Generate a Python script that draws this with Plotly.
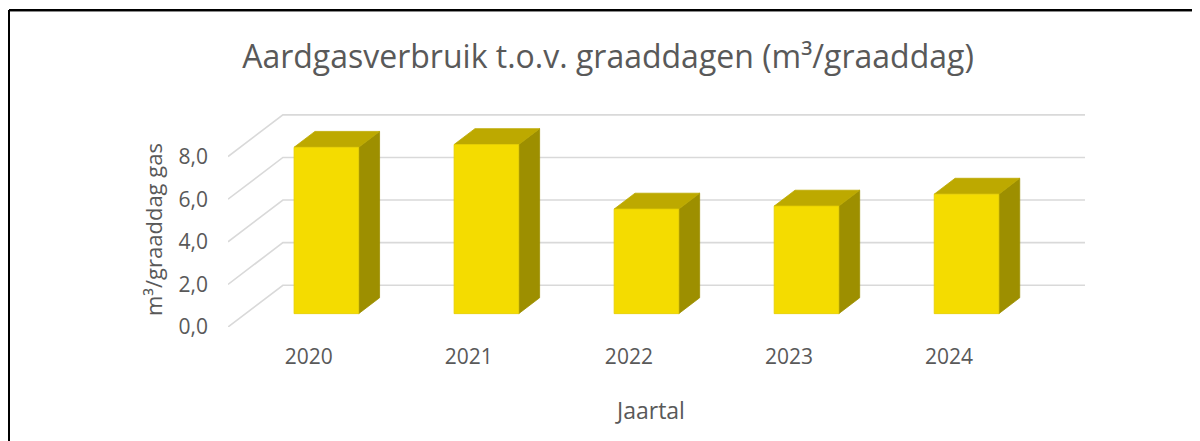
import plotly.graph_objects as go

# ---- data ----
years = ["2020", "2021", "2022", "2023", "2024"]
values = [7.81, 7.94, 4.91, 5.05, 5.61]
y_ticks = [0, 2, 4, 6, 8]

title_text = "Aardgasverbruik t.o.v. graaddagen (m³/graaddag)"
y_title = "m³/graaddag gas"
x_title = "Jaartal"

# ---- pseudo-3D geometry (data units) ----
X0, X1 = -0.505, 4.85      # x-axis range (left wall plane .. back wall end)
DX, DY = 0.343, 1.96       # full depth offset
F0, F1 = 0.32, 0.70        # bar depth span (fraction of depth)
BW = 0.404                 # bar front width

FRONT = "#F4DC00"
TOP = "#BDA900"
SIDE = "#9D8F00"
GRID = "#D9D9D9"
TXT = "#595959"

fig = go.Figure()

# gridlines: left wall diagonals + back wall horizontals
gx, gy = [], []
for v in y_ticks:
    gx += [X0, X0 + DX, X1, None]
    gy += [v, v + DY, v + DY, None]
fig.add_trace(go.Scatter(x=gx, y=gy, mode="lines",
                         line=dict(color=GRID, width=1.6),
                         hoverinfo="skip", showlegend=False))

# bars
sx, sy, tx, ty, fx, fy = [], [], [], [], [], []
for i, v in enumerate(values):
    cx = i + F0 * DX
    xl, xr = cx - BW / 2, cx + BW / 2
    yb = F0 * DY
    yt = v + F0 * DY
    ddx, ddy = (F1 - F0) * DX, (F1 - F0) * DY
    sx += [xr, xr + ddx, xr + ddx, xr, xr, None]
    sy += [yb, yb + ddy, yt + ddy, yt, yb, None]
    tx += [xl, xr, xr + ddx, xl + ddx, xl, None]
    ty += [yt, yt, yt + ddy, yt + ddy, yt, None]
    fx += [xl, xr, xr, xl, xl, None]
    fy += [yb, yb, yt, yt, yb, None]

fig.add_trace(go.Scatter(x=sx, y=sy, mode="lines", fill="toself", fillcolor=SIDE,
                         line=dict(color=SIDE, width=0.8), hoverinfo="skip", showlegend=False))
fig.add_trace(go.Scatter(x=tx, y=ty, mode="lines", fill="toself", fillcolor=TOP,
                         line=dict(color=TOP, width=0.8), hoverinfo="skip", showlegend=False))
fig.add_trace(go.Scatter(x=fx, y=fy, mode="lines", fill="toself", fillcolor=FRONT,
                         line=dict(color="#E6CE00", width=0.8), hoverinfo="skip", showlegend=False))

# ---- layout (page has an 8px body margin) ----
OFF = 8
W, H = 1200 - OFF, 441 - OFF
ML, MR, MT, MB = 228 - OFF, 115, 114 - OFF, 114
PW, PH = W - ML - MR, H - MT - MB


def px_to_paper(px, py):
    return (px - OFF - ML) / PW, (H - MB - (py - OFF)) / PH


fig.update_layout(
    width=W, height=H,
    margin=dict(l=ML, r=MR, t=MT, b=MB, autoexpand=False),
    paper_bgcolor="white", plot_bgcolor="white",
    separators=",.",
    font=dict(family="Open Sans", color=TXT),
    showlegend=False,
    title=dict(text=title_text, x=(608 - OFF) / W, xanchor="center", xref="container",
               y=1 - (57 - OFF) / H, yanchor="middle", yref="container",
               font=dict(size=32, color=TXT, family="Open Sans")),
    xaxis=dict(range=[X0, X1], tickmode="array", tickvals=list(range(len(years))),
               ticktext=years, showgrid=False, zeroline=False, showline=False,
               ticks="", ticklabelstandoff=15, tickfont=dict(size=21, color=TXT),
               fixedrange=True),
    yaxis=dict(range=[0, 10], tickmode="array", tickvals=y_ticks,
               tickformat=".1f", showgrid=False, zeroline=False, showline=False,
               ticks="", ticklabelstandoff=19, tickfont=dict(size=21, color=TXT),
               fixedrange=True),
)

ax, ay = px_to_paper(650, 410)
yx, yy = px_to_paper(153, 230)
fig.add_annotation(text=x_title, x=ax, y=ay, xref="paper", yref="paper",
                   xanchor="center", yanchor="middle",
                   showarrow=False, font=dict(size=23, color=TXT))
fig.add_annotation(text=y_title, x=yx, y=yy, xref="paper", yref="paper",
                   xanchor="center", yanchor="middle",
                   showarrow=False, textangle=-90, font=dict(size=22, color=TXT))

# chart border (black frame, extends past the window)
bx0, by0 = px_to_paper(9, 10)
bx1, by1 = px_to_paper(1215, 460)
_, gy1 = px_to_paper(0, 11.5)
fig.add_shape(type="line", xref="paper", yref="paper", x0=bx0, x1=bx1, y0=gy1, y1=gy1,
              line=dict(color="#8a8a8a", width=1))
fig.add_shape(type="line", xref="paper", yref="paper", x0=bx0, x1=bx1, y0=by0, y1=by0,
              line=dict(color="black", width=2))
fig.add_shape(type="line", xref="paper", yref="paper", x0=bx0, x1=bx0, y0=by0, y1=by1,
              line=dict(color="black", width=2))

fig.write_html("out.html", config={"displayModeBar": False})
